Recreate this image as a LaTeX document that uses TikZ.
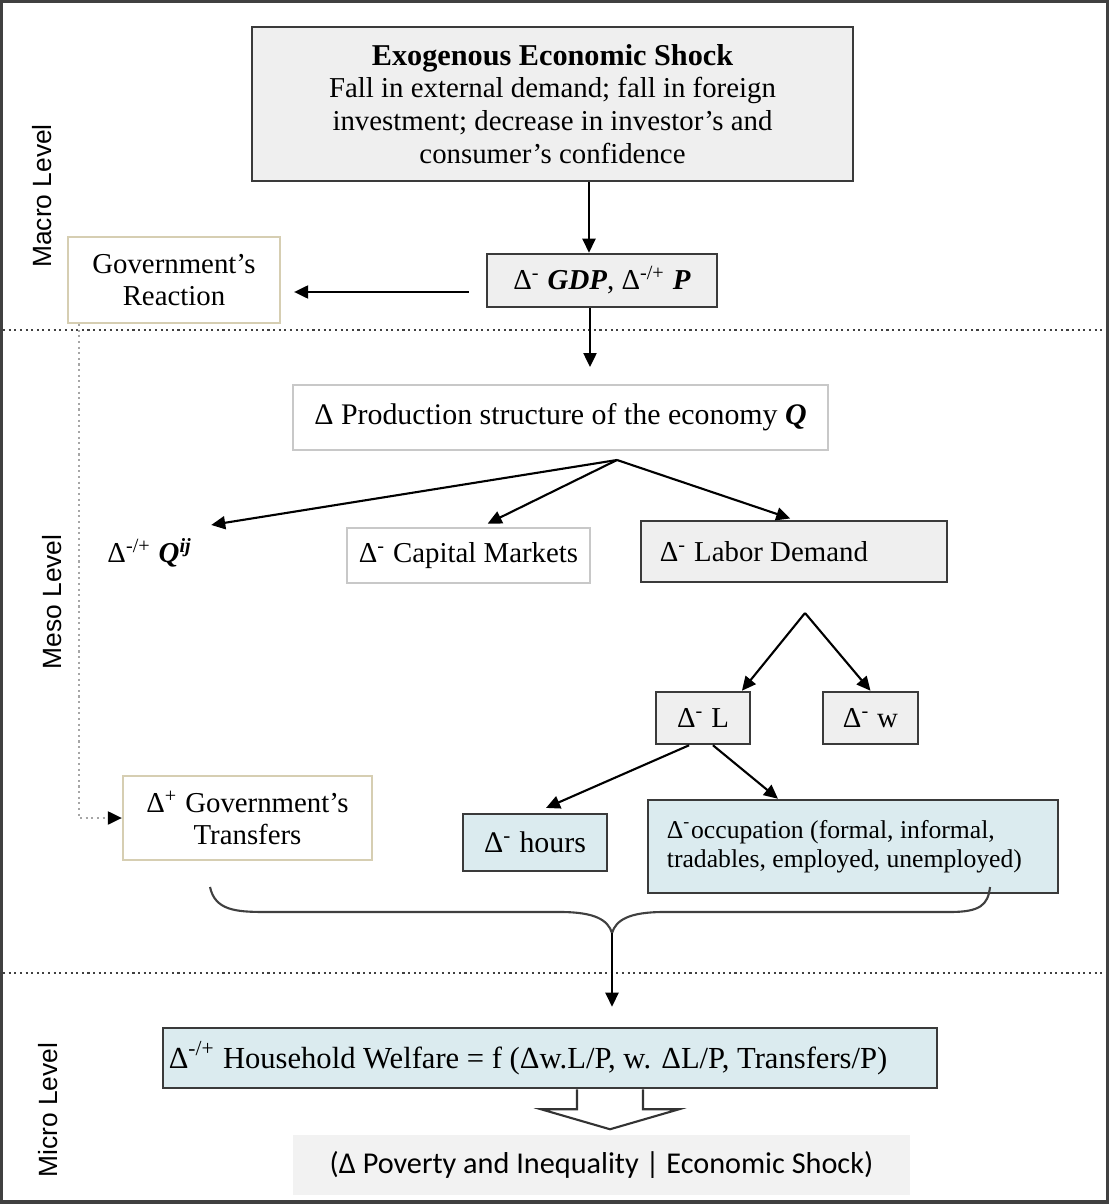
\documentclass[tikz,border=0pt]{standalone}
\usepackage{fontspec}
\setmainfont{Liberation Serif}
\newfontfamily\calib{Carlito}
\newfontfamily\levelfont{Liberation Sans}
\usetikzlibrary{arrows.meta}
\definecolor{boxgray}{HTML}{EFEFEF}
\definecolor{boxblue}{HTML}{DBEBEF}
\definecolor{boxedge}{HTML}{3A3A3A}
\definecolor{lightedge}{HTML}{C8C8C8}
\definecolor{tanedge}{HTML}{D6CEB2}
\definecolor{povgray}{HTML}{F2F2F2}
\tikzset{
  every node/.style={font=\fontsize{8.2}{9.3}\selectfont},
  shockbox/.style={draw=boxedge, fill=boxgray, line width=0.7pt},
  bluebox/.style={draw=boxedge, fill=boxblue, line width=0.7pt},
  plainbox/.style={draw=lightedge, line width=0.5pt},
  govbox/.style={draw=tanedge, line width=0.6pt},
  arr/.style={-{Triangle[length=1.4mm,width=1.3mm]}, line width=0.6pt},
  levellabel/.style={rotate=90, font=\levelfont\fontsize{7.5}{9}\selectfont},
  sepline/.style={densely dotted, line width=0.6pt, black!75},
  govline/.style={densely dotted, line width=0.6pt, black!35, -{Triangle[length=1.4mm,width=1.3mm,color=black]}},
  brace/.style={line width=0.6pt, black!75}
}
\begin{document}
\begin{tikzpicture}[x=0.01cm,y=-0.01cm]
\useasboundingbox (0,0) rectangle (1110,1204);
\draw[line width=0.9pt, black!75] (1.5,1.5) rectangle (1107.5,1202);
\draw[sepline] (3,330) -- (1106,330);
\draw[sepline] (3,973) -- (1106,973);

\node[levellabel] (macro) at (42,196) {Macro Level};
\node[levellabel] (meso) at (52,602) {Meso Level};
\node[levellabel] (micro) at (48,1110) {Micro Level};

\node[shockbox, minimum width=6.01cm, minimum height=1.54cm, align=center] (shock) at (552.5,104)
  {{\fontsize{8.6}{10}\selectfont\bfseries Exogenous Economic Shock}\\Fall in external demand; fall in foreign\\investment; decrease in investor’s and\\consumer’s confidence};
\node[shockbox, minimum width=2.3cm, minimum height=0.53cm] (gdp) at (602,280.5)
  {Δ\textsuperscript{-} \textbf{\textit{GDP}}, Δ\textsuperscript{-/+} \textbf{\textit{P}}};
\node[govbox, minimum width=2.12cm, minimum height=0.86cm, align=center] (gov) at (174,280)
  {Government’s\\Reaction};
\node[plainbox, minimum width=5.35cm, minimum height=0.65cm, font=\fontsize{8.5}{9.5}\selectfont] (prod) at (560.5,417.5)
  {Δ Production structure of the economy \textbf{\textit{Q}}};
\coordinate (qsplit) at (617,460);
\node[inner sep=0.1cm] (qij) at (150,553) {Δ\textsuperscript{-/+} \textbf{\textit{Q\textsuperscript{ij}}}};
\node[plainbox, minimum width=2.43cm, minimum height=0.55cm] (cap) at (468.5,555.5) {Δ\textsuperscript{-} Capital Markets};
\node[shockbox, text width=2.68cm, inner xsep=0.19cm, minimum height=0.61cm, align=flush left] (labor) at (794,551.5)
  {Δ\textsuperscript{-} Labor Demand};
\coordinate (lsplit) at (805,613);
\node[shockbox, minimum width=0.94cm, minimum height=0.52cm] (dl) at (703,718) {Δ\textsuperscript{-} L};
\node[shockbox, minimum width=0.95cm, minimum height=0.52cm] (dw) at (870.5,718) {Δ\textsuperscript{-} w};
\node[govbox, minimum width=2.49cm, minimum height=0.84cm, align=center] (trans) at (247.5,818)
  {Δ\textsuperscript{+} Government’s\\Transfers};
\node[bluebox, minimum width=1.44cm, minimum height=0.57cm, font=\fontsize{8.5}{9.5}\selectfont] (hours) at (535,842.5) {Δ\textsuperscript{-} hours};
\node[bluebox, text width=3.72cm, inner xsep=0.19cm, minimum height=0.93cm, align=flush left, font=\fontsize{7.3}{8.4}\selectfont] (occ) at (853,846.5)
  {Δ\textsuperscript{-}occupation (formal, informal,\\tradables, employed, unemployed)};
\coordinate (btip) at (612,933);
\node[bluebox, text width=7.62cm, inner xsep=0.06cm, minimum height=0.6cm, align=flush left, font=\fontsize{8.7}{10}\selectfont] (welf) at (550,1058)
  {Δ\textsuperscript{-/+} Household Welfare = f (Δw.L/P, w. ΔL/P, Transfers/P)};
\node[fill=povgray, minimum width=6.17cm, minimum height=0.6cm, font=\calib\fontsize{8.6}{10}\selectfont] (pov) at (601.5,1165)
  {(Δ Poverty and Inequality | Economic Shock)};

\draw[arr] ([xshift=-0.13cm]gdp.north |- shock.south) -- ([xshift=-0.13cm]gdp.north);
\draw[arr, shorten <=0.17cm, shorten >=0.13cm] ([yshift=-0.115cm]gdp.west) -- ([yshift=-0.115cm]gov.east |- gdp.west);
\draw[arr, shorten >=0.17cm] ([xshift=-0.12cm]gdp.south) -- ([xshift=-0.12cm]gdp.south |- prod.north);
\draw[arr] (qsplit) -- ([xshift=0.08cm,yshift=0.03cm]qij.north east);
\draw[arr, shorten >=0.08cm] (qsplit) -- ([xshift=0.12cm]cap.north);
\draw[arr, shorten >=0.04cm] (qsplit) -- (labor.north);
\draw[arr] (lsplit) -- (dl.35);
\draw[arr] (lsplit) -- (dw.north);
\draw[arr, shorten >=0.12cm] (dl.-117) -- (hours.north);
\draw[arr] (dl.-70) -- ([xshift=-0.75cm]occ.north);
\draw[govline] ([xshift=0.12cm]gov.south west) |- (trans.west);
\draw[brace] (210,887) .. controls (215,910) and (235,912) .. (265,912) -- (560,912)
  .. controls (595,912) and (608,920) .. (btip) .. controls (616,920) and (629,912) .. (664,912)
  -- (950,912) .. controls (980,912) and (988,905) .. (990,887);
\draw[arr, shorten >=0.2cm] (btip) -- (welf.north -| btip);
\draw[line width=0.6pt, black!80] ([xshift=0.27cm]welf.south) -- ++(0,20) -- ++(-36,0) -- ++(69,20) -- ++(69,-20) -- ++(-36,0) -- ++(0,-20);
\end{tikzpicture}
\end{document}
